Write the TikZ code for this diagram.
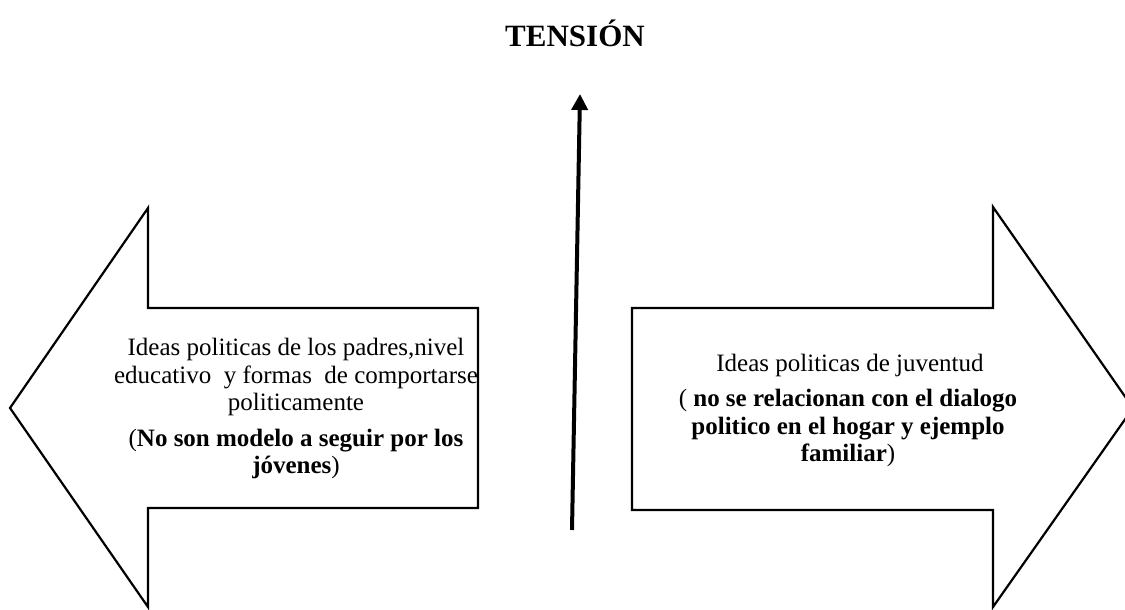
\documentclass[tikz,border=0pt]{standalone}
\usepackage{fontspec}
\setmainfont{Liberation Serif}
\usetikzlibrary{arrows.meta}
\begin{document}
\begin{tikzpicture}[x=1pt,y=-1pt,
  outline/.style={draw=black,line width=2.2pt,line join=miter,fill=white},
  body/.style={align=center,font=\fontsize{25}{27.5}\selectfont,inner sep=0pt},
  bodyb/.style={body,font=\bfseries\fontsize{25}{27.5}\selectfont},
  mid/.style={line width=4pt,-{Triangle[length=16pt,width=16pt]}}]
\useasboundingbox (0,0) rectangle (1125,610);
\clip (0,0) rectangle (1125,610);
% left arrow
\draw[outline] (10,408) -- (148,208) -- (148,308) -- (478,308) -- (478,508)
  -- (148,508) -- (148,607) -- cycle;
% right arrow
\draw[outline] (1133,408) -- (993,207) -- (993,308) -- (632,308) -- (632,510)
  -- (993,510) -- (993,607) -- cycle;
% title
\node[font=\bfseries\fontsize{31}{34}\selectfont,inner sep=0pt] (tension) at (575,33) {TENSIÓN};
% middle arrow
\coordinate (tb) at (572,530);
\coordinate (tt) at (580,94);
\draw[mid] (tb) -- (tt);
% left texts
\node[body] (l1) at (296,377) {Ideas politicas de los padres,nivel\\educativo\ \ y formas\ \ de comportarse\\politicamente};
\node[bodyb] (l2) at (296,454) {\textmd{(}No son modelo a seguir por los\\jóvenes\textmd{)}};
% right texts
\node[body] (r1) at (850,365) {Ideas politicas de juventud};
\node[bodyb] (r2) at (848,428) {\textmd{(} no se relacionan con el dialogo\\politico en el hogar y ejemplo\\familiar\textmd{)}};
\end{tikzpicture}
\end{document}
